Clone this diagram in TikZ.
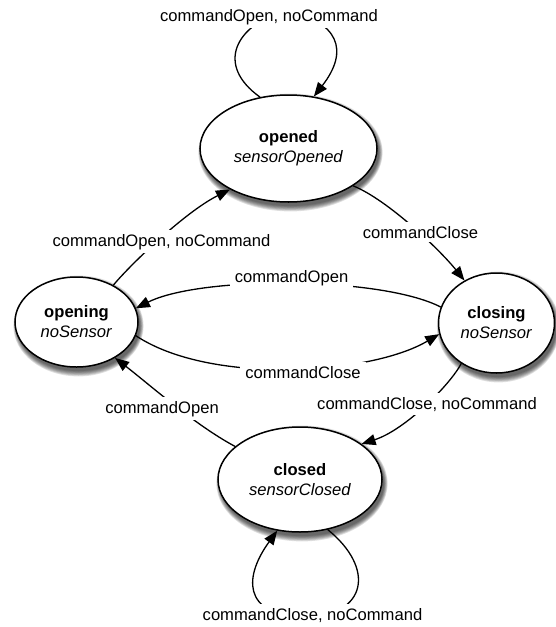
\documentclass[tikz,border=0pt]{standalone}
\usepackage{fontspec}
\setmainfont{Liberation Sans}
\usetikzlibrary{shapes.geometric,arrows.meta}
\begin{document}
\begin{tikzpicture}[x=1pt,y=-1pt,
  state/.style={ellipse, draw=black, line width=1.5pt, fill=white, inner sep=0pt,
    align=center, font=\fontsize{16.6}{20}\selectfont},
  edge/.style={line width=1.3pt, line cap=round},
  arr/.style={edge, -{Triangle[length=14pt,width=11pt]}},
  lbl/.style={fill=white, inner xsep=5pt, inner ysep=3.5pt, anchor=base,
    font=\fontsize{16.6}{20}\selectfont},
]
\useasboundingbox (0,0) rectangle (555,627);
% soft drop shadows
\foreach \cx/\cy/\rx/\ry in {288.5/148.5/88.5/53.5, 76.5/322/61.5/45, 496.5/323/58/50, 300/479.5/82/52.5}{
  \foreach \k in {0,...,6}{
    \fill[black, opacity=0.12] (\cx+2, \cy+4) ellipse [x radius=\rx+0.6*\k, y radius=\ry+0.9*\k];
  }
}
% states
\node[state, minimum width=177pt, minimum height=107pt] (opened) at (288.5,148.5)
  {\textbf{opened}\\\textit{sensorOpened}};
\node[state, minimum width=123pt, minimum height=90pt] (opening) at (76.5,322)
  {\textbf{opening}\\\textit{noSensor}};
\node[state, minimum width=116pt, minimum height=100pt] (closing) at (496.5,323)
  {\textbf{closing}\\\textit{noSensor}};
\node[state, minimum width=164pt, minimum height=105pt] (closed) at (300,479.5)
  {\textbf{closed}\\\textit{sensorClosed}};
% loop anchors
\coordinate (otop) at (286.5,10);
\coordinate (cbot) at (305,618);
% transitions
\draw[arr] (opened.-30.5) .. controls (388,200) and (440,250) .. (closing.127);
\draw[arr] (closing.164.7) .. controls (380,276) and (200,276) .. (opening.13.7);
\draw[arr] (opening.-13.7) .. controls (210,385) and (370,375) .. (closing.191.6);
\draw[arr] (closed.153.4) .. controls (195,425) and (150,385) .. (opening.-43.9);
\draw[arr] (closing.229.2) .. controls (450,385) and (405,430) .. (closed.30.1);
\draw[arr] (opening.45.3) .. controls (130,265) and (185,212) .. (opened.215.4);
\draw[arr] (opened.119.4) .. controls (215,65) and (235,25) .. (otop)
  .. controls (338,22) and (350,50) .. (opened.64.6);
\draw[arr] (closed.-61) .. controls (375,568) and (368,615) .. (cbot)
  .. controls (240,615) and (245,575) .. (closed.246.3);
% labels
\node[lbl] (l1) at (269,21) {commandOpen, noCommand};
\node[lbl] (l2) at (161.5,246) {commandOpen, noCommand};
\node[lbl] (l3) at (420.5,238) {commandClose};
\node[lbl] (l4) at (291.5,282) {commandOpen};
\node[lbl] (l5) at (303,378) {commandClose};
\node[lbl] (l6) at (162,413) {commandOpen};
\node[lbl] (l7) at (427,409) {commandClose, noCommand};
\node[lbl] (l8) at (312.5,620) {commandClose, noCommand};
\end{tikzpicture}
\end{document}
